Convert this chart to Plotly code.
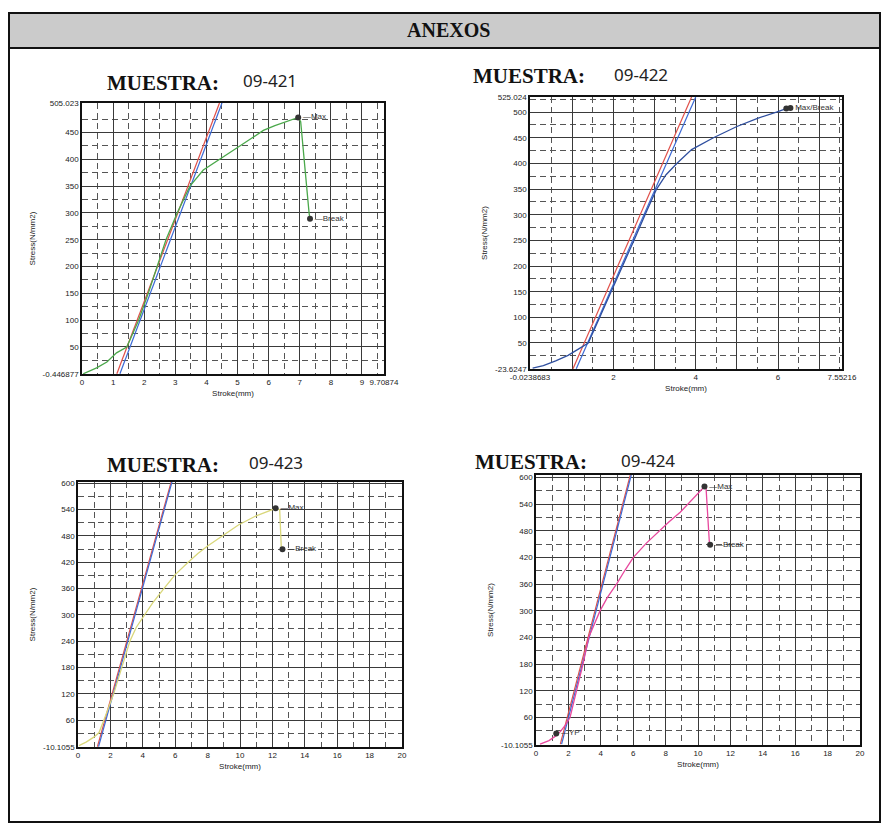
import plotly.graph_objects as go

W, H = 882, 825

# ---------------- data read off the scanned reports ----------------
# 09-421  (stroke mm / stress N/mm2)
stroke_421 = [0.04, 0.47, 0.8, 1.11, 1.44, 1.82, 2.13, 2.42, 2.7, 3.06, 3.47, 3.9, 4.44, 5.0, 5.5, 5.83,
              6.2, 6.6, 6.95, 7.03, 7.08, 7.15, 7.22, 7.27, 7.3]
stress_421 = [0, 11, 22, 39, 50, 100, 150, 200, 250, 300, 350, 380, 400, 422, 441, 454,
              463, 471, 478, 470, 440, 400, 360, 320, 300]
max_421 = [6.95, 478]
break_421 = [7.33, 289]
red_x_421, red_y_421 = [1.12, 4.42], [0, 505.023]
blue_x_421, blue_y_421 = [1.22, 4.5], [0, 505.023]
xrange_421 = [0, 9.70874]
yrange_421 = [-0.446877, 505.023]
xticks_421 = [0, 1, 2, 3, 4, 5, 6, 7, 8, 9, 9.70874]
xlabels_421 = ["0", "1", "2", "3", "4", "5", "6", "7", "8", "9", "9.70874"]
yticks_421 = [-0.446877, 50, 100, 150, 200, 250, 300, 350, 400, 450, 505.023]
ylabels_421 = ["-0.446877", "50", "100", "150", "200", "250", "300", "350", "400", "450", "505.023"]

# 09-422
stroke_422 = [0.04, 0.3, 0.6, 0.9, 1.15, 1.39, 1.67, 1.95, 2.24, 2.5, 2.77, 3.05, 3.28, 3.54, 3.9,
              4.43, 5.0, 5.5, 5.96, 6.2]
stress_422 = [1, 6, 15, 26, 38, 50, 100, 150, 200, 250, 300, 350, 378, 400, 427,
              450, 472, 488, 500, 507]
max_422 = [6.2, 507]
break_422 = [6.3, 508]
red_x_422, red_y_422 = [1.02, 3.9], [0, 529.5]
blue_x_422, blue_y_422 = [1.1, 4.0], [0, 529.5]
xrange_422 = [-0.0238683, 7.55216]
yrange_422 = [-0.7, 529.5]
xticks_422 = [-0.0238683, 1, 2, 3, 4, 5, 6, 7, 7.55216]
xlabels_422 = ["-0.0238683", "", "2", "", "4", "", "6", "", "7.55216"]
yticks_422 = [-0.7, 50, 100, 150, 200, 250, 300, 350, 400, 450, 500, 529.5]
ylabels_422 = ["-23.6247", "50", "100", "150", "200", "250", "300", "350", "400", "450", "500", "525.024"]

# 09-423
stroke_423 = [0.06, 0.5, 1.0, 1.3, 1.7, 2.2, 2.7, 3.2, 3.6, 4.1, 4.6, 5.3, 6.0, 6.8, 7.4, 8.0, 8.8,
              9.9, 11.0, 11.8, 12.2, 12.45, 12.5, 12.55]
stress_423 = [2, 10, 22, 32, 70, 120, 180, 240, 272, 300, 327, 360, 392, 420, 440, 457, 478,
              505, 526, 537, 543, 540, 500, 453]
max_423 = [12.2, 543]
break_423 = [12.62, 450]
red_x_423, red_y_423 = [1.2, 5.75], [0, 603]
blue_x_423, blue_y_423 = [1.27, 5.8], [0, 603]
xrange_423 = [0, 20]
yrange_423 = [-1, 603]
xticks_423 = [0, 2, 4, 6, 8, 10, 12, 14, 16, 18, 20]
xlabels_423 = ["0", "2", "4", "6", "8", "10", "12", "14", "16", "18", "20"]
yticks_423 = [-1, 60, 120, 180, 240, 300, 360, 420, 480, 540, 600]
ylabels_423 = ["-10.1055", "60", "120", "180", "240", "300", "360", "420", "480", "540", "600"]

# 09-424
stroke_424 = [0.25, 0.8, 1.2, 1.5, 1.8, 2.1, 2.5, 2.9, 3.25, 3.95, 4.4, 5.0, 5.5, 6.0, 6.8, 7.6, 8.2,
              8.9, 9.5, 10.1, 10.4, 10.5, 10.6, 10.7]
stress_424 = [0, 8, 18, 28, 42, 60, 120, 180, 240, 300, 330, 362, 392, 420, 452, 480, 500,
              522, 545, 570, 580, 575, 520, 455]
max_424 = [10.4, 580]
break_424 = [10.75, 449]
yp_424 = [1.25, 24]
red_x_424, red_y_424 = [1.5, 5.82], [0, 606]
blue_x_424, blue_y_424 = [1.58, 5.88], [0, 606]
xrange_424 = [0, 20]
yrange_424 = [-2, 606]
xticks_424 = xticks_423
xlabels_424 = xlabels_423
yticks_424 = [-2, 60, 120, 180, 240, 300, 360, 420, 480, 540, 600]
ylabels_424 = ylabels_423


def px(x):
    return x / W


def py(y):
    return 1 - y / H


panels = [
    dict(n="", sample="09-421", box=(82, 103, 384, 374), color="#4aa84a",
         curve=(stroke_421, stress_421), red=(red_x_421, red_y_421), blue=(blue_x_421, blue_y_421),
         mx=max_421, br=break_421, labels=["—Max", "—Break"], xr=xrange_421, yr=yrange_421,
         xt=(xticks_421, xlabels_421), yt=(yticks_421, ylabels_421),
         xminor=dict(tick0=0.5, dtick=1), yminor=dict(tick0=25, dtick=50),
         title=(163, 83, 270)),
    dict(n="2", sample="09-422", box=(530, 97, 842, 369), color="#2f4f9f",
         curve=(stroke_422, stress_422), red=(red_x_422, red_y_422), blue=(blue_x_422, blue_y_422),
         mx=max_422, br=break_422, labels=["", "Max/Break"], xr=xrange_422, yr=yrange_422,
         xt=(xticks_422, xlabels_422), yt=(yticks_422, ylabels_422),
         xminor=dict(tick0=0.5, dtick=1), yminor=dict(tick0=25, dtick=50),
         title=(529, 76, 641)),
    dict(n="3", sample="09-423", box=(78, 482, 402, 747), color="#d9d77a",
         curve=(stroke_423, stress_423), red=(red_x_423, red_y_423), blue=(blue_x_423, blue_y_423),
         mx=max_423, br=break_423, labels=["—Max", "—Break"], xr=xrange_423, yr=yrange_423,
         xt=(xticks_423, xlabels_423), yt=(yticks_423, ylabels_423),
         xminor=dict(tick0=1, dtick=2), yminor=dict(tick0=30, dtick=60),
         title=(163, 465, 276)),
    dict(n="4", sample="09-424", box=(536, 475, 860, 745), color="#e8489e",
         curve=(stroke_424, stress_424), red=(red_x_424, red_y_424), blue=(blue_x_424, blue_y_424),
         mx=max_424, br=break_424, labels=["—Max", "—Break"], xr=xrange_424, yr=yrange_424,
         xt=(xticks_424, xlabels_424), yt=(yticks_424, ylabels_424),
         xminor=dict(tick0=1, dtick=2), yminor=dict(tick0=30, dtick=60),
         title=(531, 462, 648)),
]

fig = go.Figure()
tick_font = dict(family="Liberation Sans", size=8, color="#222")
title_font = dict(family="Liberation Sans", size=8, color="#222")
annotations = []

for p in panels:
    xa, ya = "x" + p["n"], "y" + p["n"]
    cx, cy = p["curve"]
    fig.add_trace(go.Scatter(x=p["red"][0], y=p["red"][1], mode="lines", xaxis=xa, yaxis=ya,
                             line=dict(color="#e0504a", width=1.2), showlegend=False))
    fig.add_trace(go.Scatter(x=p["blue"][0], y=p["blue"][1], mode="lines", xaxis=xa, yaxis=ya,
                             line=dict(color="#3c6ad6", width=1.2), showlegend=False))
    fig.add_trace(go.Scatter(x=cx, y=cy, mode="lines", xaxis=xa, yaxis=ya,
                             line=dict(color=p["color"], width=1.3), showlegend=False))
    # line from the last sampled point down to the break marker
    fig.add_trace(go.Scatter(x=[cx[-1], p["br"][0]], y=[cy[-1], p["br"][1]], mode="lines",
                             xaxis=xa, yaxis=ya, line=dict(color=p["color"], width=1.3),
                             showlegend=False))
    fig.add_trace(go.Scatter(x=[p["mx"][0], p["br"][0]], y=[p["mx"][1], p["br"][1]],
                             mode="markers+text", text=p["labels"],
                             textposition="middle right", xaxis=xa, yaxis=ya,
                             textfont=dict(family="Liberation Sans", size=8, color="#333"),
                             marker=dict(size=6, color="#333"), showlegend=False))

    x0, y0, x1, y1 = p["box"]
    grid = dict(showgrid=True, gridcolor="#3a3a3a", gridwidth=1,
                showline=True, linecolor="#111", linewidth=1.5, mirror=True,
                zeroline=False, ticks="", tickfont=tick_font, tickmode="array")
    minor = dict(showgrid=True, gridcolor="#555", gridwidth=1, griddash="6px,4px")
    fig.update_layout({
        "xaxis" + p["n"]: dict(grid, domain=[px(x0), px(x1)], anchor=ya, range=p["xr"],
                               tickvals=p["xt"][0], ticktext=p["xt"][1],
                               minor=dict(minor, **p["xminor"]),
                               title=dict(text="Stroke(mm)", font=title_font, standoff=4)),
        "yaxis" + p["n"]: dict(grid, domain=[py(y1), py(y0)], anchor=xa, range=p["yr"],
                               tickvals=p["yt"][0], ticktext=p["yt"][1],
                               minor=dict(minor, **p["yminor"]),
                               title=dict(text="Stress(N/mm2)", font=title_font, standoff=6)),
    })

    tx, ty, nx = p["title"]
    annotations.append(dict(text="MUESTRA:", x=px(tx), y=py(ty), xref="paper", yref="paper",
                            xanchor="center", yanchor="middle", showarrow=False,
                            font=dict(family="Liberation Serif", size=21, color="#111",
                                      weight="bold")))
    annotations.append(dict(text=p["sample"], x=px(nx), y=py(ty - 2), xref="paper", yref="paper",
                            xanchor="center", yanchor="middle", showarrow=False,
                            font=dict(family="Noto Sans", size=17, color="#222")))

# yield point marker on 09-424
fig.add_trace(go.Scatter(x=[yp_424[0]], y=[yp_424[1]], mode="markers+text", text=["—YP"],
                         textposition="middle right", xaxis="x4", yaxis="y4",
                         textfont=dict(family="Liberation Sans", size=8, color="#333"),
                         marker=dict(size=6, color="#333"), showlegend=False))

annotations.append(dict(text="ANEXOS", x=px(448), y=py(30), xref="paper", yref="paper",
                        xanchor="center", yanchor="middle", showarrow=False,
                        font=dict(family="Liberation Serif", size=20, color="#111",
                                  weight="bold")))

fig.update_layout(
    width=W, height=H,
    template="none",
    margin=dict(l=0, r=0, t=0, b=0),
    paper_bgcolor="white",
    plot_bgcolor="white",
    annotations=annotations,
    shapes=[
        dict(type="rect", xref="paper", yref="paper", x0=px(9), x1=px(880), y0=py(48), y1=py(13),
             fillcolor="#cbcbcb", line=dict(color="#111", width=2), layer="below"),
        dict(type="rect", xref="paper", yref="paper", x0=px(9), x1=px(880), y0=py(822), y1=py(13),
             line=dict(color="#111", width=2)),
    ],
)

# drop the browser's default 8px body margin so the figure fills the window
fig.write_html("out.html", config={"displayModeBar": False},
               post_script="document.body.style.margin='0';")
